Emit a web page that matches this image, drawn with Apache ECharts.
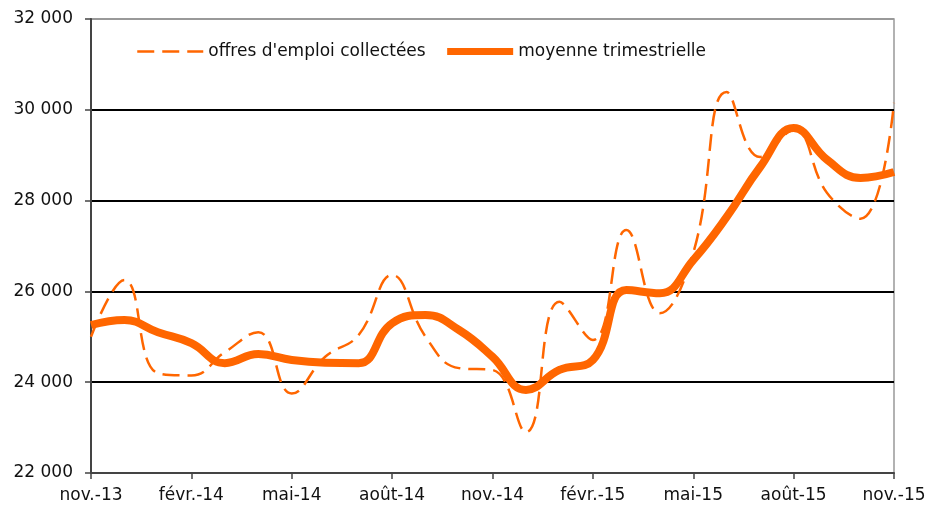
<!DOCTYPE html>
<html>
<head>
<meta charset="utf-8">
<script src="https://cdn.jsdelivr.net/npm/echarts@6/dist/echarts.min.js"></script>
<style>
  html, body { margin: 0; padding: 0; background: #fff; }
  #chartLine { width: 931px; height: 508px; }
</style>
</head>
<body>
<div id="chartLine"></div>
<script>
const months = [
  'nov.-13', 'déc.-13', 'janv.-14', 'févr.-14', 'mars-14', 'avr.-14', 'mai-14',
  'juin-14', 'juil.-14', 'août-14', 'sept.-14', 'oct.-14', 'nov.-14', 'déc.-14',
  'janv.-15', 'févr.-15', 'mars-15', 'avr.-15', 'mai-15', 'juin-15', 'juil.-15',
  'août-15', 'sept.-15', 'oct.-15', 'nov.-15'
]
const offres = [
  25000, 26250, 24200, 24150, 24660, 25100, 23750, 24560, 25040, 26360, 25000, 24310,
  24270, 22900, 25770, 24930, 27350, 25520, 26850, 30390, 28960, 29550, 28170, 27600, 30150
]
const moyenne = [
  25260, 25370, 25100, 24860, 24420, 24620, 24490, 24430, 24420, 25300, 25480, 25150,
  24560, 23830, 24270, 24490, 26030, 25960, 26690, 27640, 28740, 29600, 28900, 28500, 28630
]
const yTicks = [22000, 24000, 26000, 28000, 30000, 32000]

const chartDom = document.getElementById('chartLine')
const myChart = echarts.init(chartDom)
const font = "'DejaVu Sans', sans-serif"

let option = {
  animation: false,
  textStyle: { fontFamily: font },
  legend: {
    left: 131,
    top: 38,
    itemWidth: 66,
    itemHeight: 10,
    itemGap: 18,
    itemStyle: { opacity: 0 },
    textStyle: { fontSize: 17, color: '#111', fontFamily: font },
    data: [
      { name: 'offres d\'emploi collectées', lineStyle: { width: 2.5 } },
      { name: 'moyenne trimestrielle', lineStyle: { width: 7 } }
    ]
  },
  grid: {
    left: 91,
    right: 37,
    top: 19,
    bottom: 35,
    show: true,
    borderColor: '#999',
    borderWidth: 1.5
  },
  xAxis: {
    type: 'category',
    boundaryGap: false,
    data: months,
    axisLine: { lineStyle: { color: '#444', width: 2 } },
    axisTick: { interval: 2, length: 6, lineStyle: { color: '#444', width: 1.5 } },
    axisLabel: { interval: 2, fontSize: 17, color: '#111', margin: 14, fontFamily: font }
  },
  yAxis: {
    type: 'value',
    min: yTicks[0],
    max: yTicks[yTicks.length - 1],
    interval: 2000,
    axisLine: { show: true, lineStyle: { color: '#444', width: 2 } },
    axisTick: { show: true, length: 6, lineStyle: { color: '#444', width: 1.5 } },
    axisLabel: {
      fontSize: 17,
      color: '#111',
      margin: 18,
      fontFamily: font,
      formatter: v => String(v).replace(/\B(?=(\d{3})+(?!\d))/g, ' ')
    },
    splitLine: {
      lineStyle: { color: ['#000', '#000', '#000', '#000', '#000', '#999'], width: 2 }
    }
  },
  series: [
    {
      name: 'offres d\'emploi collectées',
      type: 'line',
      data: offres,
      smooth: 0.45,
      symbol: 'none',
      color: '#FF6600',
      lineStyle: { width: 2.5, type: [17, 8], color: '#FF6600' },
      z: 3
    },
    {
      name: 'moyenne trimestrielle',
      type: 'line',
      data: moyenne,
      smooth: 0.45,
      symbol: 'none',
      color: '#FF6600',
      lineStyle: { width: 8, color: '#FF6600' },
      z: 2
    }
  ]
}
option && myChart.setOption(option)
</script>
</body>
</html>
